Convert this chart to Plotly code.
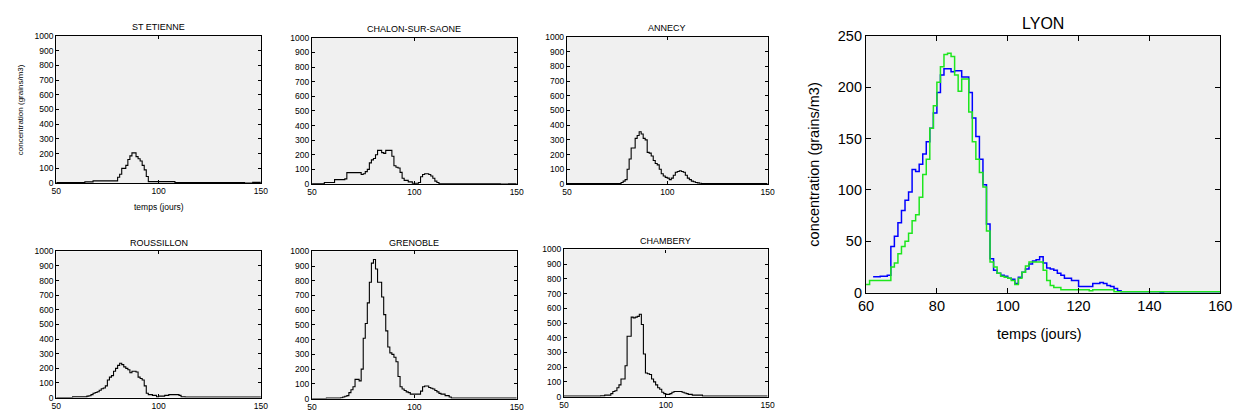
import plotly.graph_objects as go

# ---------------- data ----------------
DAYS = list(range(50, 151))          # small panels, days 50..150
LYON_DAYS = list(range(60, 161))     # Lyon panel, days 60..160

ST_ETIENNE = [
    3, 3, 3, 3, 3, 3, 3, 3, 3, 3,
    3, 3, 3, 3, 8, 8, 8, 8, 15, 15,
    15, 15, 15, 15, 15, 15, 15, 15, 15, 15,
    40, 60, 100, 100, 120, 160, 185, 205, 205, 180,
    165, 150, 120, 90, 45, 10, 10, 10, 10, 10,
    10, 10, 10, 10, 10, 10, 10, 10, 3, 3,
    3, 3, 3, 3, 3, 3, 3, 3, 3, 3,
    3, 3, 3, 3, 3, 3, 3, 3, 3, 3,
    3, 3, 3, 3, 3, 3, 3, 3, 3, 3,
    3, 3, 0, 0, 0, 0, 5, 5, 5, 5,
    5]

CHALON = [
    2, 2, 2, 2, 2, 2, 10, 10, 10, 10,
    10, 30, 30, 30, 30, 30, 35, 78, 78, 78,
    78, 78, 78, 78, 65, 70, 85, 100, 145, 165,
    175, 200, 230, 230, 215, 210, 230, 230, 230, 190,
    125, 115, 110, 80, 40, 25, 25, 15, 15, 5,
    5, 5, 10, 50, 65, 70, 70, 65, 55, 40,
    20, 10, 2, 2, 2, 2, 2, 2, 2, 2,
    2, 2, 2, 2, 2, 2, 2, 2, 2, 2,
    2, 2, 2, 2, 2, 2, 2, 2, 2, 2,
    2, 2, 0, 0, 0, 0, 2, 2, 2, 2,
    2]

ANNECY = [
    3, 3, 3, 3, 3, 3, 3, 3, 3, 3,
    3, 3, 3, 3, 3, 3, 3, 3, 3, 3,
    3, 3, 3, 3, 3, 3, 3, 10, 20, 30,
    100, 170, 245, 245, 310, 330, 355, 340, 310, 300,
    215, 210, 190, 160, 140, 130, 100, 70, 55, 45,
    40, 30, 40, 60, 80, 85, 90, 85, 80, 60,
    40, 30, 20, 15, 10, 8, 5, 3, 3, 3,
    3, 3, 3, 3, 3, 3, 3, 3, 3, 3,
    3, 3, 3, 3, 3, 3, 3, 3, 3, 3,
    3, 3, 3, 3, 3, 3, 3, 3, 3, 3,
    3]

ROUSSILLON = [
    0, 0, 0, 0, 0, 0, 0, 0, 5, 5,
    5, 5, 5, 5, 5, 10, 12, 20, 30, 35,
    40, 50, 60, 65, 80, 120, 140, 150, 180, 200,
    220, 235, 225, 210, 200, 190, 170, 180, 180, 175,
    140, 130, 120, 80, 30, 20, 20, 15, 15, 5,
    10, 10, 10, 15, 15, 20, 20, 20, 20, 20,
    15, 5, 5, 3, 3, 3, 3, 3, 3, 3,
    3, 3, 3, 3, 3, 3, 3, 3, 3, 3,
    3, 3, 3, 3, 3, 3, 3, 3, 3, 3,
    3, 3, 3, 3, 3, 3, 3, 3, 3, 3,
    3]

GRENOBLE = [
    0, 0, 0, 0, 0, 0, 0, 3, 3, 3,
    3, 3, 3, 3, 5, 10, 15, 20, 40, 60,
    80, 130, 130, 120, 200, 410, 510, 650, 790, 920,
    945, 880, 790, 790, 690, 570, 460, 350, 310, 300,
    280, 250, 150, 80, 65, 55, 45, 40, 30, 30,
    30, 30, 30, 50, 80, 85, 85, 75, 70, 65,
    55, 45, 35, 30, 30, 20, 20, 10, 3, 3,
    3, 3, 3, 3, 3, 3, 3, 3, 3, 3,
    3, 3, 3, 3, 3, 3, 3, 3, 3, 3,
    3, 3, 3, 3, 3, 3, 3, 3, 3, 3,
    3]

CHAMBERY = [
    3, 3, 3, 3, 3, 3, 3, 3, 3, 3,
    3, 3, 3, 3, 3, 3, 3, 3, 5, 5,
    10, 10, 10, 20, 35, 40, 60, 80, 120, 120,
    210, 410, 410, 540, 535, 540, 545, 560, 490, 290,
    160, 155, 150, 120, 100, 80, 60, 50, 30, 20,
    15, 15, 20, 30, 35, 35, 35, 35, 30, 25,
    20, 15, 15, 10, 10, 10, 10, 10, 3, 3,
    3, 3, 3, 3, 3, 3, 3, 3, 3, 3,
    3, 3, 3, 3, 3, 3, 3, 3, 3, 3,
    3, 3, 3, 3, 3, 3, 3, 3, 3, 3,
    3]

LYON_BLUE = [
    None, None, 15.5, 15.5, 16, 16, 17, 45, 55, 68,
    80, 90, 98, 120, 118, 125, 135, 147, 160, 175,
    195, 212, 218, 218, 215, 216, 216, 210, 210, 195,
    170, 152, 130, 105, 67, 33, 22, 19, 17, 16,
    14, 13, 9, 15, 20, 23, 28, 31, 32, 35,
    29, 24, 23, 22, 19, 17, 14, 14, 12, 12,
    6, 6, 6, 6, 9, 9, 10, 9, 7, 6,
    4, 2, 1, 1, 1, 1, 1, 1, 1, 1,
    1, 1, 1, 0, 1, 1, 1, 1, 1, 1,
    1, 1, 1, 1, 1, 1, 1, 1, 1, 1,
    1]

LYON_GREEN = [
    8, 12, 12, 12, 12, 12, 12, 25, 29, 38,
    45, 50, 58, 70, 76, 93, 115, 130, 160, 182,
    205, 220, 232, 233, 230, 212, 196, 208, 208, 176,
    147, 130, 117, 103, 60, 30, 25, 19, 16, 15,
    14, 12, 8, 14, 20, 26, 30, 30, 30, 30,
    22, 12, 7, 5, 5, 3, 3, 3, 3, 3,
    3, 3, 3, 2, 3, 3, 3, 3, 3, 3,
    1, 1, 1, 1, 1, 1, 1, 1, 1, 1,
    1, 1, 1, 1, 1, 1, 1, 1, 1, 1,
    1, 1, 1, 1, 1, 1, 1, 1, 1, 1,
    1]

SMALL_X_TICKS = [50, 100, 150]
SMALL_Y_TICKS = [0, 100, 200, 300, 400, 500, 600, 700, 800, 900, 1000]
LYON_X_TICKS = [60, 80, 100, 120, 140, 160]
LYON_Y_TICKS = [0, 50, 100, 150, 200, 250]

# ---------------- layout ----------------
W, H = 1250, 420
FONT = "Liberation Sans, Arial, sans-serif"

# (title, values, (left, right, top, bottom) in pixels)
panels = [
    ("ST ETIENNE", ST_ETIENNE, (49, 257, 29, 182)),
    ("CHALON-SUR-SAONE", CHALON, (309, 517, 31, 183)),
    ("ANNECY", ANNECY, (568, 772, 30, 183)),
    ("ROUSSILLON", ROUSSILLON, (49, 257, 253, 405)),
    ("GRENOBLE", GRENOBLE, (309, 517, 253, 406)),
    ("CHAMBERY", CHAMBERY, (565, 772, 251, 404)),
]

fig = go.Figure()
layout = {}
annotations = []


def px_x(v):
    return v / W


def px_y(v):
    return 1 - v / H


for i, (name, vals, (l, r, t, b)) in enumerate(panels):
    k = i + 1
    xa = "x" if k == 1 else f"x{k}"
    ya = "y" if k == 1 else f"y{k}"
    fig.add_trace(go.Scatter(
        x=DAYS, y=vals, mode="lines",
        line=dict(color="black", width=1.1, shape="hv"),
        xaxis=xa, yaxis=ya, showlegend=False, hoverinfo="skip"))
    common = dict(showgrid=False, zeroline=False, showline=True,
                  linecolor="black", linewidth=1.2, mirror="ticks",
                  ticks="inside", ticklen=3, tickcolor="black", tickwidth=1,
                  tickfont=dict(family=FONT, size=8.5, color="black"))
    layout["xaxis" if k == 1 else f"xaxis{k}"] = dict(
        domain=[px_x(l), px_x(r)], range=[50, 150], anchor=ya,
        tickvals=SMALL_X_TICKS, **common)
    layout["yaxis" if k == 1 else f"yaxis{k}"] = dict(
        domain=[px_y(b), px_y(t)], range=[0, 1000], anchor=xa,
        tickvals=SMALL_Y_TICKS, **common)
    annotations.append(dict(
        text=name, xref="paper", yref="paper",
        x=px_x((l + r) / 2), y=px_y(t - 9), xanchor="center", yanchor="middle",
        showarrow=False, font=dict(family=FONT, size=9, color="black")))

# axis titles of the first small panel
annotations.append(dict(
    text="concentration (grains/m3)", xref="paper", yref="paper",
    x=px_x(13), y=px_y((29 + 182) / 2), xanchor="center", yanchor="middle",
    textangle=-90, showarrow=False, font=dict(family=FONT, size=8, color="black")))
annotations.append(dict(
    text="temps (jours)", xref="paper", yref="paper",
    x=px_x(153), y=px_y(207), xanchor="center", yanchor="middle",
    showarrow=False, font=dict(family=FONT, size=8.5, color="black")))

# ---------------- Lyon panel ----------------
L, R, T, B = 872, 1232, 29, 296
fig.add_trace(go.Scatter(
    x=LYON_DAYS, y=LYON_BLUE, mode="lines",
    line=dict(color="#0000ff", width=1.5, shape="hv"),
    xaxis="x7", yaxis="y7", showlegend=False, hoverinfo="skip"))
fig.add_trace(go.Scatter(
    x=LYON_DAYS, y=LYON_GREEN, mode="lines",
    line=dict(color="#1ee61e", width=1.5, shape="hv"),
    xaxis="x7", yaxis="y7", showlegend=False, hoverinfo="skip"))
lcommon = dict(showgrid=False, zeroline=False, showline=True,
               linecolor="black", linewidth=1.3, mirror="ticks",
               ticks="inside", ticklen=5, tickcolor="black", tickwidth=1,
               tickfont=dict(family=FONT, size=14.5, color="black"))
layout["xaxis7"] = dict(domain=[px_x(L), px_x(R)], range=[60, 160], anchor="y7",
                        tickvals=LYON_X_TICKS, **lcommon)
layout["yaxis7"] = dict(domain=[px_y(B), px_y(T)], range=[0, 250], anchor="x7",
                        tickvals=LYON_Y_TICKS, **lcommon)
annotations.append(dict(
    text="LYON", xref="paper", yref="paper",
    x=px_x((L + R) / 2), y=px_y(16), xanchor="center", yanchor="middle",
    showarrow=False, font=dict(family=FONT, size=16, color="black")))
annotations.append(dict(
    text="temps (jours)", xref="paper", yref="paper",
    x=px_x(1048), y=px_y(339), xanchor="center", yanchor="middle",
    showarrow=False, font=dict(family=FONT, size=14.5, color="black")))
annotations.append(dict(
    text="concentration (grains/m3)", xref="paper", yref="paper",
    x=px_x(819), y=px_y(163), xanchor="center", yanchor="middle",
    textangle=-90, showarrow=False, font=dict(family=FONT, size=14.5, color="black")))

fig.update_layout(
    width=W, height=H, margin=dict(l=0, r=0, t=0, b=0),
    paper_bgcolor="white", plot_bgcolor="#f0f0f0",
    annotations=annotations, **layout)

fig.write_html("out.html", config={"displayModeBar": False})
